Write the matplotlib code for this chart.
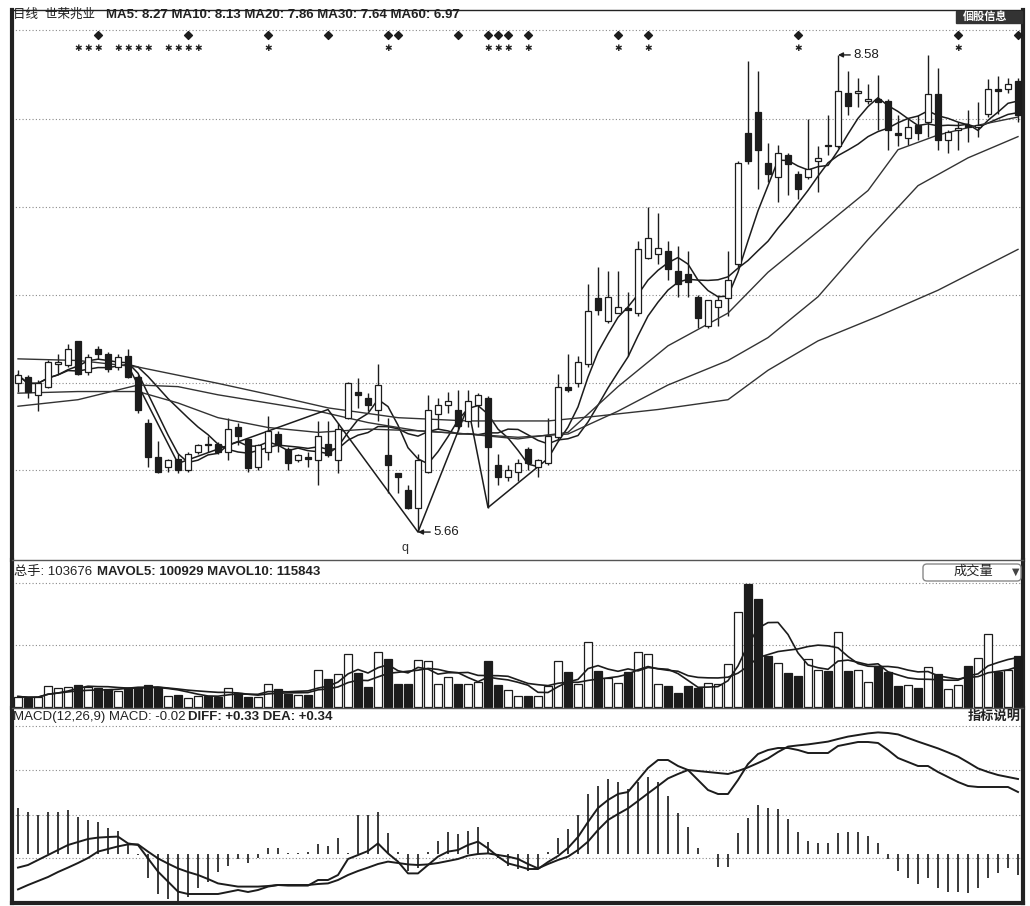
import numpy as np
import pandas as pd
import matplotlib
matplotlib.use("Agg")
import matplotlib.pyplot as plt
from matplotlib.patches import FancyBboxPatch, Rectangle

FONT = ['Liberation Sans', 'Noto Sans CJK SC', 'DejaVu Sans']
plt.rcParams['font.family'] = FONT

# ---------------- data ----------------
opens = [6.57, 6.61, 6.50, 6.55, 6.69, 6.68, 6.83, 6.64, 6.78, 6.75,
         6.67, 6.74, 6.61, 6.33, 6.12, 6.06, 6.11, 6.04, 6.15, 6.20,
         6.20, 6.15, 6.30, 6.23, 6.06, 6.15, 6.26, 6.17, 6.10, 6.12,
         6.10, 6.20, 6.10, 6.36, 6.52, 6.48, 6.41, 6.13, 6.02, 5.92,
         5.81, 6.03, 6.38, 6.44, 6.41, 6.34, 6.44, 6.48, 6.07, 6.00,
         6.03, 6.17, 6.06, 6.08, 6.24, 6.55, 6.57, 6.69, 7.09, 6.95,
         7.00, 7.03, 7.00, 7.34, 7.36, 7.38, 7.26, 7.24, 7.10, 6.92,
         7.04, 7.09, 7.30, 8.10, 8.23, 7.92, 7.83, 7.97, 7.85, 7.83,
         7.93, 8.03, 8.02, 8.35, 8.35, 8.30, 8.31, 8.30, 8.10, 8.07,
         8.15, 8.17, 8.34, 8.06, 8.12, 8.15, 8.14, 8.22, 8.37, 8.37,
         8.42]
closes = [6.62, 6.52, 6.57, 6.70, 6.70, 6.78, 6.63, 6.73, 6.75, 6.66,
          6.73, 6.61, 6.41, 6.12, 6.03, 6.10, 6.04, 6.14, 6.19, 6.19,
          6.15, 6.29, 6.25, 6.05, 6.19, 6.28, 6.19, 6.08, 6.13, 6.11,
          6.25, 6.13, 6.29, 6.57, 6.50, 6.44, 6.56, 6.07, 6.00, 5.81,
          6.10, 6.41, 6.44, 6.46, 6.31, 6.46, 6.50, 6.18, 6.00, 6.04,
          6.08, 6.08, 6.10, 6.25, 6.55, 6.53, 6.70, 7.01, 7.02, 7.10,
          7.04, 7.02, 7.39, 7.46, 7.40, 7.27, 7.18, 7.19, 6.97, 7.08,
          7.08, 7.20, 7.92, 7.93, 8.00, 7.85, 7.98, 7.91, 7.76, 7.88,
          7.95, 8.02, 8.36, 8.27, 8.36, 8.31, 8.29, 8.12, 8.09, 8.14,
          8.10, 8.34, 8.06, 8.11, 8.13, 8.14, 8.15, 8.37, 8.36, 8.40,
          8.21]
highs = [6.65, 6.62, 6.59, 6.71, 6.75, 6.81, 6.83, 6.75, 6.80, 6.76,
         6.75, 6.78, 6.62, 6.35, 6.22, 6.11, 6.14, 6.15, 6.20, 6.25,
         6.21, 6.36, 6.33, 6.23, 6.20, 6.37, 6.28, 6.18, 6.14, 6.15,
         6.34, 6.34, 6.33, 6.58, 6.60, 6.51, 6.69, 6.36, 6.02, 5.95,
         6.14, 6.50, 6.48, 6.52, 6.53, 6.53, 6.51, 6.49, 6.14, 6.07,
         6.11, 6.18, 6.11, 6.36, 6.63, 6.75, 6.74, 7.18, 7.28, 7.26,
         7.26, 7.13, 7.44, 7.65, 7.61, 7.44, 7.41, 7.38, 7.11, 7.08,
         7.11, 7.38, 7.93, 8.54, 8.48, 8.04, 8.03, 7.98, 7.87, 8.19,
         8.02, 8.21, 8.58, 8.48, 8.44, 8.40, 8.46, 8.31, 8.21, 8.19,
         8.21, 8.58, 8.50, 8.12, 8.17, 8.24, 8.29, 8.43, 8.45, 8.44,
         8.44]
lows = [6.52, 6.48, 6.40, 6.54, 6.63, 6.67, 6.62, 6.62, 6.72, 6.64,
        6.65, 6.60, 6.39, 6.06, 6.02, 6.03, 6.02, 6.03, 6.14, 6.15,
        6.14, 6.10, 6.19, 6.03, 6.04, 6.10, 6.15, 6.04, 6.09, 6.06,
        5.95, 6.12, 6.02, 6.35, 6.42, 6.40, 6.34, 5.90, 5.90, 5.80,
        5.66, 6.02, 6.29, 6.39, 6.28, 6.30, 6.30, 5.81, 5.95, 5.97,
        5.97, 6.04, 6.00, 6.07, 6.23, 6.52, 6.55, 6.67, 6.99, 6.94,
        7.00, 6.74, 6.98, 7.33, 7.30, 7.20, 7.10, 7.10, 6.91, 6.91,
        6.92, 6.98, 7.28, 7.91, 7.76, 7.80, 7.68, 7.72, 7.70, 7.82,
        7.74, 7.97, 8.01, 8.21, 8.26, 8.28, 8.12, 8.00, 8.02, 8.03,
        8.06, 8.08, 8.00, 7.98, 8.00, 8.05, 8.08, 8.20, 8.22, 8.35,
        8.17]
volumes = [21, 18, 20, 43, 38, 41, 45, 41, 39, 37,
           33, 39, 39, 45, 40, 22, 25, 18, 23, 22,
           20, 38, 28, 20, 21, 47, 37, 27, 25, 25,
           75, 57, 67, 107, 69, 40, 110, 97, 47, 47,
           95, 93, 47, 61, 47, 47, 51, 93, 45, 35,
           23, 22, 22, 43, 93, 71, 47, 130, 73, 58,
           49, 71, 110, 107, 47, 42, 28, 42, 38, 49,
           47, 87, 190, 247, 217, 103, 89, 69, 63, 97,
           75, 73, 151, 73, 75, 51, 82, 71, 42, 45,
           39, 80, 67, 37, 45, 83, 99, 147, 71, 75,
           103]  # thousands of lots

# moving averages of price (day index, value)
ma20_days = [0, 6, 12, 16, 20, 25, 30, 35, 40, 45, 50, 55, 60, 65, 71, 75, 80, 85, 88, 92, 96, 100]
ma20_vals = [6.51, 6.52, 6.52, 6.45, 6.36, 6.30, 6.27, 6.29, 6.28, 6.26, 6.23, 6.27, 6.55, 6.80, 7.00, 7.25, 7.50, 7.75, 8.00, 8.09, 8.15, 8.20]
ma30_days = [0, 6, 12, 16, 20, 25, 30, 35, 40, 45, 50, 55, 60, 65, 71, 75, 80, 85, 90, 95, 100]
ma30_vals = [6.43, 6.47, 6.56, 6.55, 6.50, 6.45, 6.40, 6.33, 6.28, 6.26, 6.24, 6.26, 6.40, 6.56, 6.71, 6.85, 7.10, 7.45, 7.78, 7.95, 8.08]
ma60_days = [0, 6, 12, 20, 26, 31, 38, 45, 53, 58, 64, 71, 75, 80, 86, 92, 100]
ma60_vals = [6.72, 6.71, 6.67, 6.57, 6.49, 6.42, 6.36, 6.34, 6.34, 6.37, 6.41, 6.47, 6.65, 6.83, 6.98, 7.14, 7.39]
zig_days = [11, 16, 31, 40, 45, 47, 52]
zig_vals = [6.68, 6.08, 6.41, 5.66, 6.43, 5.81, 6.06]

macd_hist = [0.228, 0.208, 0.195, 0.208, 0.208, 0.22, 0.183, 0.17, 0.162, 0.132,
             0.115, 0.053, -0.005, -0.122, -0.2, -0.227, -0.243, -0.213, -0.172, -0.138,
             -0.088, -0.06, -0.025, -0.047, -0.018, 0.028, 0.028, 0.005, 0.005, 0.012,
             0.048, 0.042, 0.078, 0.005, 0.195, 0.195, 0.212, 0.103, 0.012, -0.085,
             -0.072, 0.008, 0.065, 0.108, 0.098, 0.117, 0.137, 0.062, -0.02, -0.06,
             -0.075, -0.083, -0.072, 0.008, 0.078, 0.125, 0.195, 0.298, 0.342, 0.375,
             0.358, 0.323, 0.362, 0.387, 0.358, 0.292, 0.203, 0.137, 0.028, 0.0,
             -0.063, -0.063, 0.103, 0.182, 0.245, 0.228, 0.225, 0.175, 0.108, 0.065,
             0.053, 0.053, 0.103, 0.112, 0.112, 0.092, 0.053, -0.025, -0.085, -0.122,
             -0.152, -0.122, -0.168, -0.188, -0.192, -0.197, -0.172, -0.122, -0.097, -0.072,
             -0.105]
diff = [-0.068, -0.055, -0.03, -0.005, 0.02, 0.045, 0.06, 0.075, 0.082, 0.085,
        0.087, 0.053, 0.045, -0.022, -0.088, -0.138, -0.188, -0.2, -0.2, -0.2,
        -0.2, -0.19, -0.18, -0.19, -0.18, -0.163, -0.155, -0.158, -0.158, -0.158,
        -0.13, -0.13, -0.105, -0.025, -0.005, 0.015, 0.053, 0.003, -0.038, -0.097,
        -0.097, -0.055, -0.013, 0.012, 0.02, 0.045, 0.062, 0.028, -0.013, -0.047,
        -0.06, -0.075, -0.075, -0.04, -0.01, 0.03, 0.085, 0.16, 0.23, 0.27,
        0.30, 0.31, 0.37, 0.43, 0.47, 0.47, 0.44, 0.42, 0.37, 0.32,
        0.30, 0.30, 0.37, 0.45, 0.50, 0.52, 0.53, 0.53, 0.52, 0.505,
        0.505, 0.505, 0.54, 0.55, 0.56, 0.56, 0.555, 0.52, 0.48, 0.46,
        0.44, 0.44, 0.41, 0.385, 0.36, 0.34, 0.335, 0.335, 0.335, 0.335,
        0.31]
dea = [-0.177, -0.155, -0.135, -0.115, -0.09, -0.068, -0.045, -0.02, 0.012, 0.025,
       0.038, 0.048, 0.048, 0.012, -0.022, -0.048, -0.072, -0.09, -0.105, -0.125,
       -0.147, -0.155, -0.163, -0.163, -0.163, -0.16, -0.155, -0.155, -0.155, -0.155,
       -0.15, -0.147, -0.13, -0.105, -0.085, -0.068, -0.05, -0.038, -0.045, -0.052,
       -0.055, -0.052, -0.045, -0.035, -0.025, -0.008, 0.0, 0.003, -0.005, -0.013,
       -0.025, -0.05, -0.072, -0.05, -0.03, -0.013, 0.02, 0.062, 0.12, 0.17,
       0.2, 0.228, 0.265, 0.303, 0.34, 0.378, 0.40, 0.42, 0.415, 0.41,
       0.405, 0.40, 0.415, 0.433, 0.455, 0.478, 0.51, 0.537, 0.543, 0.548,
       0.555, 0.562, 0.575, 0.587, 0.595, 0.603, 0.608, 0.605, 0.598, 0.58,
       0.562, 0.545, 0.528, 0.508, 0.487, 0.458, 0.428, 0.41, 0.395, 0.385,
       0.375]

diamond_days = [8, 17, 25, 31, 37, 38, 44, 47, 48, 49, 51, 60, 63, 78, 94, 100]
star_days = [6, 7, 8, 10, 11, 12, 13, 15, 16, 17, 18, 25, 37, 47, 48, 49, 51, 60, 63, 78, 94]

low_label, low_day = "5.66", 40
high_label, high_day = "8.58", 82

title_left = "日线  世荣兆业"
title_ma = "MA5: 8.27 MA10: 8.13 MA20: 7.86 MA30: 7.64 MA60: 6.97"
vol_left = "总手: 103676"
vol_ma = "MAVOL5: 100929 MAVOL10: 115843"
macd_left = "MACD(12,26,9) MACD: -0.02"
macd_right = "DIFF: +0.33 DEA: +0.34"

# ---------------- layout ----------------
W, H = 1030, 906
fig = plt.figure(figsize=(W / 100, H / 100), dpi=100)
fig.patch.set_facecolor('white')


def rect(x0, y0, x1, y1):
    return [x0 / W, 1 - y1 / H, (x1 - x0) / W, (y1 - y0) / H]


ax1 = fig.add_axes(rect(12, 10, 1023, 560))
ax2 = fig.add_axes(rect(12, 560, 1023, 708))
ax3 = fig.add_axes(rect(12, 708, 1023, 903))

n = len(closes)
idx = np.arange(n)
o = np.array(opens); c = np.array(closes); hi = np.array(highs); lo = np.array(lows)
up = c >= o
INK = '#1c1c1c'
GRID = dict(color='#8a8a8a', lw=0.8, ls=(0, (1, 2)))

for ax in (ax1, ax2, ax3):
    ax.set_xlim(-0.6, 100.5)
    ax.set_xticks([]); ax.set_yticks([])
    for s in ax.spines.values():
        s.set_color('#222'); s.set_linewidth(1.0)
    ax.spines['left'].set_linewidth(3.0)
    ax.spines['right'].set_linewidth(3.0)

ax1.spines['bottom'].set_visible(False)
ax2.spines['top'].set_color('#555')
ax2.spines['bottom'].set_visible(False)
ax3.spines['top'].set_color('#555')
ax3.spines['bottom'].set_linewidth(3.0)

# ---------------- price panel ----------------
ax1.set_ylim(5.489, 8.855)
for g in [8.73, 8.19, 7.65, 7.11, 6.57, 6.04]:
    ax1.axhline(g, zorder=0, **GRID)

ax1.vlines(idx, lo, hi, color=INK, lw=1.0, zorder=2)
body_bot = np.minimum(o, c)
body_h = np.maximum(np.abs(c - o), 0.008)
ax1.bar(idx, body_h, bottom=body_bot, width=0.66,
        color=np.where(up, 'white', INK), edgecolor=INK, linewidth=0.9, zorder=4)

close_s = pd.Series(closes)
ma5 = close_s.rolling(5, min_periods=1).mean()
ma10 = close_s.rolling(10, min_periods=1).mean()
for y in (ma5, ma10):
    ax1.plot(idx, y, color=INK, lw=1.1, zorder=3)
ax1.plot(ma20_days, ma20_vals, color='#333', lw=1.0, zorder=3)
ax1.plot(ma30_days, ma30_vals, color='#333', lw=1.0, zorder=3)
ax1.plot(ma60_days, ma60_vals, color='#333', lw=1.0, zorder=3)
ax1.plot(zig_days, zig_vals, color=INK, lw=1.1, zorder=3)

ax1.scatter(diamond_days, [8.70] * len(diamond_days), marker='D', s=16, color=INK, zorder=5)
for d in star_days:
    ax1.text(d, 8.622, '✱', ha='center', va='center', fontsize=6.5, color=INK,
             family='DejaVu Sans')

arrow = dict(arrowstyle='-|>', color=INK, lw=1.0, shrinkA=0, shrinkB=0, mutation_scale=7)
ax1.annotate(low_label, xy=(low_day, lows[low_day]), xytext=(low_day + 1.5, lows[low_day]),
             va='center', ha='left', fontsize=9.5, color=INK, arrowprops=arrow)
ax1.annotate(high_label, xy=(high_day, highs[high_day]), xytext=(high_day + 1.5, highs[high_day]),
             va='center', ha='left', fontsize=9.5, color=INK, arrowprops=arrow)
ax1.text(38.7, 5.56, 'q', ha='center', va='center', fontsize=9, color='#333')

# ---------------- volume panel ----------------
vol = np.array(volumes) * 1000.0
ax2.set_ylim(-2000, 294000)
for g in [248000, 124000]:
    ax2.axhline(g, zorder=0, **GRID)
ax2.bar(idx, vol, width=0.72, color=np.where(up, 'white', INK), edgecolor=INK,
        linewidth=0.9, zorder=3)
vs = pd.Series(vol)
ax2.plot(idx, vs.rolling(5, min_periods=1).mean(), color=INK, lw=1.2, zorder=4)
ax2.plot(idx, vs.rolling(10, min_periods=1).mean(), color=INK, lw=1.2, zorder=4)

# ---------------- MACD panel ----------------
ax3.set_ylim(-0.245, 0.73)
for g in [0.64, 0.42, 0.195, -0.02]:
    ax3.axhline(g, zorder=0, **GRID)
ax3.vlines(idx, 0, macd_hist, color='#2a2a2a', lw=1.3, zorder=2)
ax3.plot(idx, diff, color=INK, lw=1.4, zorder=3)
ax3.plot(idx, dea, color=INK, lw=1.4, zorder=3)

# ---------------- texts ----------------
def ftext(x, y, s, **kw):
    fig.text(x / W, 1 - y / H, s, va='center', **kw)


ftext(13, 15, title_left, fontsize=9, color='#222')
ftext(106, 15, title_ma, fontsize=9.5, fontweight='bold', color='#222')
ftext(14, 572, vol_left, fontsize=9.5, color='#222')
ftext(97, 572, vol_ma, fontsize=9.5, fontweight='bold', color='#222')
ftext(13, 717, macd_left, fontsize=9.5, color='#222')
ftext(188, 717, macd_right, fontsize=9.5, fontweight='bold', color='#222')
ftext(1021, 717, '指标说明', fontsize=9.5, fontweight='bold', color='#222', ha='right')

# dropdown box
fig.patches.append(FancyBboxPatch((923 / W, 1 - 581 / H), 98 / W, 17 / H,
                                  boxstyle='round,pad=0,rounding_size=0.004',
                                  transform=fig.transFigure, facecolor='white',
                                  edgecolor='#888', lw=1.0))
ftext(973, 572, '成交量', fontsize=9.5, color='#222', ha='center')
ftext(1016, 572, '▼', fontsize=7, color='#444', ha='center', family='DejaVu Sans')

# info button top right
fig.patches.append(Rectangle((956 / W, 1 - 23 / H), 66 / W, 12 / H,
                             transform=fig.transFigure, facecolor='#333', edgecolor='#333'))
ftext(985, 17, '個股信息', fontsize=8, color='white', ha='center', fontweight='bold')

fig.savefig('out.png', dpi=100, facecolor='white')
